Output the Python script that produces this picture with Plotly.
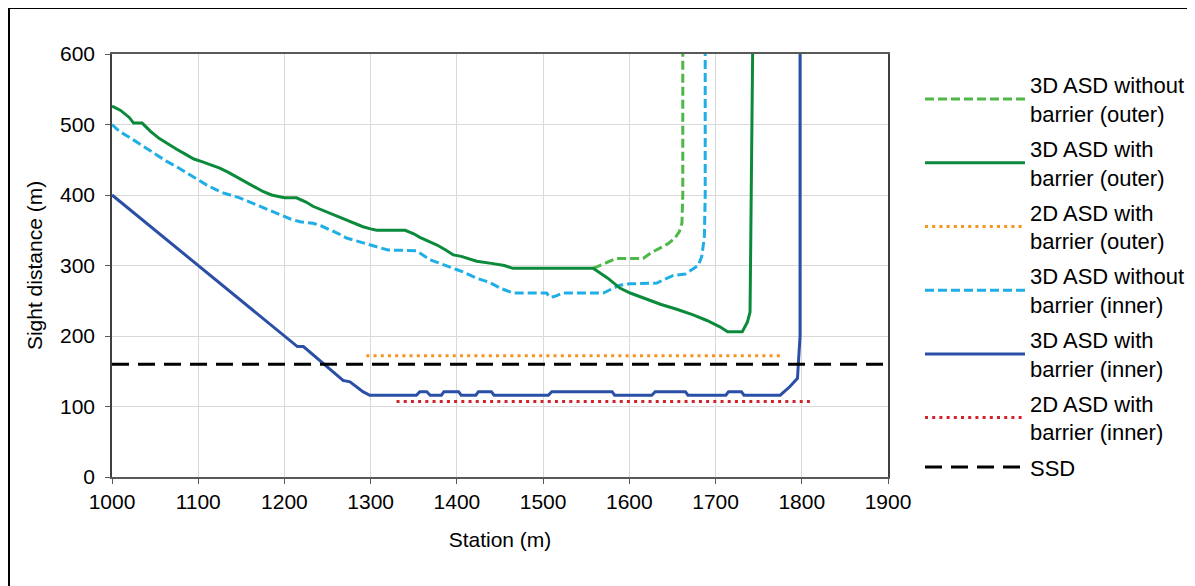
import plotly.graph_objects as go

# ---- data ----
green_out_wo_x = [1558, 1570, 1585, 1616, 1625, 1636, 1645, 1653, 1658, 1661, 1662, 1662]
green_out_wo_y = [296, 302, 310, 310, 318, 325, 331, 339, 348, 360, 400, 600]

green_out_w_x = [1000, 1010, 1020, 1025, 1035, 1045, 1055, 1065, 1075, 1085, 1095, 1105, 1115,
                 1125, 1135, 1145, 1155, 1165, 1175, 1185, 1195, 1200, 1214, 1225, 1233, 1243,
                 1253, 1263, 1272, 1282, 1291, 1300, 1307, 1340, 1350, 1357, 1367, 1377, 1387,
                 1396, 1405, 1413, 1423, 1440, 1455, 1465, 1558, 1575, 1589, 1601, 1615, 1636,
                 1655, 1674, 1690, 1705, 1714, 1731, 1737, 1740, 1743]
green_out_w_y = [526, 520, 510, 502, 502, 490, 480, 472, 465, 458, 451, 447, 443,
                 438, 432, 425, 418, 411, 405, 400, 398, 396, 396, 390, 384, 379,
                 374, 369, 365, 360, 355, 352, 350, 350, 345, 340, 335, 329, 322,
                 315, 313, 310, 306, 303, 300, 296, 296, 282, 268, 261, 255, 245,
                 238, 230, 222, 213, 206, 206, 220, 234, 600]

orange_2d_x = [1295, 1778]
orange_2d_y = [172, 172]

blue_in_wo_x = [1000, 1009, 1020, 1030, 1044, 1055, 1063, 1075, 1087, 1098, 1110, 1120, 1129,
                1148, 1160, 1172, 1183, 1195, 1207, 1218, 1233, 1243, 1253, 1263, 1272, 1283,
                1295, 1311, 1320, 1353, 1361, 1369, 1378, 1388, 1398, 1407, 1415, 1423, 1438,
                1450, 1465, 1504, 1508, 1513, 1523, 1570, 1580, 1589, 1600, 1632, 1640, 1651,
                1665, 1672, 1680, 1684, 1687, 1688, 1688]
blue_in_wo_y = [500, 490, 482, 474, 464, 455, 448, 440, 431, 422, 414, 408, 403,
                396, 390, 384, 378, 372, 366, 362, 360, 356, 351, 345, 339, 335,
                331, 325, 322, 321, 315, 308, 304, 299, 295, 291, 286, 282, 276,
                268, 261, 261, 255, 256, 261, 261, 267, 272, 274, 275, 280, 286,
                288, 294, 300, 313, 340, 400, 600]

blue_in_w_x = [1000, 1210, 1215, 1222, 1268, 1276, 1291, 1299, 1353, 1357, 1365, 1369, 1382,
               1385, 1402, 1405, 1422, 1425, 1440, 1443, 1506, 1510, 1580, 1583, 1626, 1630,
               1665, 1668, 1712, 1715, 1730, 1733, 1775, 1786, 1795, 1798, 1798]
blue_in_w_y = [400, 190, 185, 185, 137, 135, 121, 116, 116, 121, 121, 116, 116,
               121, 121, 116, 116, 121, 121, 116, 116, 121, 121, 116, 116, 121,
               121, 116, 116, 121, 121, 116, 116, 128, 140, 200, 600]

red_2d_x = [1330, 1813]
red_2d_y = [107, 107]

ssd_x = [1000, 1900]
ssd_y = [160, 160]

names = ["3D ASD without<br>barrier (outer)", "3D ASD with<br>barrier (outer)",
         "2D ASD with<br>barrier (outer)", "3D ASD without<br>barrier (inner)",
         "3D ASD with<br>barrier (inner)", "2D ASD with<br>barrier (inner)", "SSD"]

x_ticks = [1000, 1100, 1200, 1300, 1400, 1500, 1600, 1700, 1800, 1900]
y_ticks = [0, 100, 200, 300, 400, 500, 600]

FONT = "Liberation Sans, Arial, sans-serif"

# page has an 8px body margin, so the figure is a bit smaller than the window
W, H = 1187, 578
L, T, PW, PH = 104, 46, 776, 423

fig = go.Figure()
series = [
    (green_out_wo_x, green_out_wo_y, names[0], "#4DB848", 3, "9px,4px"),
    (green_out_w_x, green_out_w_y, names[1], "#0B8A3C", 3, "solid"),
    (orange_2d_x, orange_2d_y, names[2], "#F7941D", 3, "3px,4.2px"),
    (blue_in_wo_x, blue_in_wo_y, names[3], "#1FAEE5", 3, "9px,4px"),
    (blue_in_w_x, blue_in_w_y, names[4], "#2B4FA6", 3, "solid"),
    (red_2d_x, red_2d_y, names[5], "#D2232A", 3, "3px,4.2px"),
    (ssd_x, ssd_y, names[6], "#000000", 3, "17px,9px"),
]
order = [0, 3, 1, 4, 2, 5, 6]
for i in order:
    xs, ys, nm, col, w, dash = series[i]
    fig.add_trace(go.Scatter(x=xs, y=ys, mode="lines", name=nm,
                             line=dict(color=col, width=w, dash=dash),
                             legendrank=i + 1, legendgroup=str(i)))

fig.update_layout(
    width=W, height=H,
    margin=dict(l=L, r=W - L - PW, t=T, b=H - T - PH, autoexpand=False),
    paper_bgcolor="white", plot_bgcolor="white",
    font=dict(family=FONT, size=21, color="#000000"),
    showlegend=True,
    legend=dict(x=(912 - L) / PW, xanchor="left", y=1 - (56 - T) / PH, yanchor="top",
                font=dict(size=22), traceorder="grouped", tracegroupgap=3.5,
                itemwidth=100, bgcolor="rgba(0,0,0,0)"),
    xaxis=dict(range=[1000, 1900], tickvals=x_ticks, showgrid=True, gridcolor="#D9D9D9",
               gridwidth=1, showline=True, linecolor="#595959", linewidth=1.5, mirror=True,
               ticks="outside", ticklen=5, tickcolor="#595959", zeroline=False,
               title=dict(text="Station (m)", font=dict(size=21), standoff=20),
               tickfont=dict(size=21)),
    yaxis=dict(range=[0, 600], tickvals=y_ticks, showgrid=True, gridcolor="#D9D9D9",
               gridwidth=1, showline=True, linecolor="#404040", linewidth=1.5, mirror=True,
               ticks="outside", ticklen=5, tickcolor="#595959", zeroline=False,
               ticklabelstandoff=6,
               title=dict(text="Sight distance (m)", font=dict(size=21), standoff=12),
               tickfont=dict(size=21)),
)

# outer frame around the whole chart
fig.add_shape(type="rect", xref="paper", yref="paper",
              x0=(1 - L) / PW, x1=(1185 - L) / PW,
              y0=-(H + 20 - T - PH) / PH, y1=1 + (T - 0) / PH,
              line=dict(color="#000000", width=2), fillcolor="rgba(0,0,0,0)", layer="below")

fig.write_html("out.html")
